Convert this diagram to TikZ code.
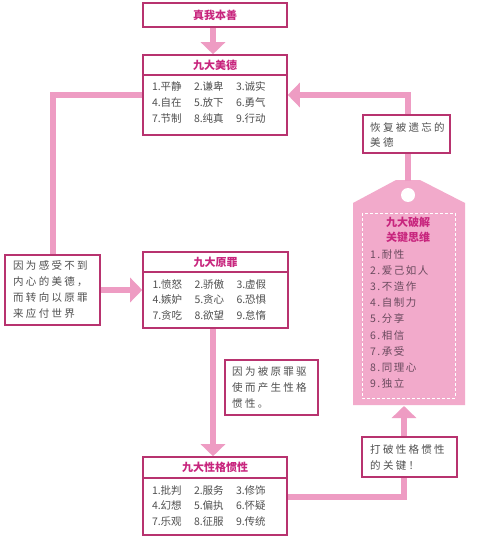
\documentclass[tikz,border=0pt]{standalone}
\usepackage{fontspec}
\setmainfont{Noto Sans CJK SC}
\newfontfamily\spaced[LetterSpace=22]{Noto Sans CJK SC}
\newfontfamily\tagspaced[LetterSpace=14]{Noto Sans CJK SC}
\usetikzlibrary{arrows.meta}
\definecolor{linepink}{HTML}{EE9CC3}
\definecolor{tagpink}{HTML}{F2AACB}
\definecolor{border}{HTML}{B8336F}
\definecolor{titlecol}{HTML}{C8267E}
\definecolor{txt}{HTML}{505050}
\definecolor{tagtxt}{HTML}{6A4A5E}
\tikzset{
  pinkline/.style={line width=6pt, draw=linepink},
  pinkarrow/.style={pinkline, -{Triangle[width=24pt,length=12pt]}},
  boxstyle/.style={draw=border, line width=1.6pt, fill=white, inner sep=0pt},
  titlebox/.style={boxstyle, text=titlecol, font=\fontsize{11}{13}\selectfont\bfseries},
  itemtext/.style={inner sep=0pt, align=left, text=txt, font=\fontsize{10.5}{15.8}\selectfont},
  labeltext/.style={inner sep=0pt, align=left, text=txt, anchor=west, font=\fontsize{10.5}{15.8}\spaced},
}
\newcommand{\itm}[1]{\makebox[42pt][l]{#1}}
\begin{document}
\begin{tikzpicture}[x=1pt,y=-1pt]
\useasboundingbox (0,0) rectangle (486,540);
\fill[white] (0,0) rectangle (486,540);

% tag shape
\fill[tagpink] (353,405) -- (353,203) -- (396,180) -- (420,180) -- (465,203) -- (465,405) -- cycle;
\fill[white] (408,195) circle (7);
\draw[white, line width=1pt, dash pattern=on 3pt off 2pt] (362,213) rectangle (455,398);
\coordinate (tagtop) at (408,181);
\coordinate (tagbot) at (404,406);

% main boxes
\node[titlebox, minimum width=144pt, minimum height=24pt] (top) at (215,15) {真我本善};
\node[titlebox, minimum width=144pt, minimum height=20pt] (virtT) at (215,65) {九大美德};
\node[boxstyle, minimum width=144pt, minimum height=60pt] (virtB) at (215,105) {};
\node[itemtext] (virtL) at (215,102.5) {\itm{1.平静}\itm{2.谦卑}\itm{3.诚实}\\\itm{4.自在}\itm{5.放下}\itm{6.勇气}\\\itm{7.节制}\itm{8.纯真}\itm{9.行动}};

\node[titlebox, minimum width=145pt, minimum height=20pt] (sinsT) at (215.5,262) {九大原罪};
\node[boxstyle, minimum width=145pt, minimum height=56pt] (sinsB) at (215.5,300) {};
\node[itemtext] (sinsL) at (215.5,300) {\itm{1.愤怒}\itm{2.骄傲}\itm{3.虚假}\\\itm{4.嫉妒}\itm{5.贪心}\itm{6.恐惧}\\\itm{7.贪吃}\itm{8.欲望}\itm{9.怠惰}};

\node[titlebox, minimum width=144pt, minimum height=21pt] (habT) at (215,467.5) {九大性格惯性};
\node[boxstyle, minimum width=144pt, minimum height=57pt] (habB) at (215,506.5) {};
\node[itemtext] (habL) at (215,506) {\itm{1.批判}\itm{2.服务}\itm{3.修饰}\\\itm{4.幻想}\itm{5.偏执}\itm{6.怀疑}\\\itm{7.乐观}\itm{8.征服}\itm{9.传统}};

\node[boxstyle, minimum width=95pt, minimum height=70pt] (left) at (52.5,290) {};

% connectors
\draw[pinkarrow] ([xshift=-2pt]top.south) -- ([xshift=-2pt]virtT.north);
\draw[pinkarrow] (tagtop) |- ([yshift=10pt]virtB.east);
\draw[pinkline] ([yshift=10pt]virtB.west) -| (left.north);
\draw[pinkarrow] (left.east) -- (left.east -| sinsB.west);
\draw[pinkarrow] ([xshift=-2.5pt]sinsB.south) -- ([xshift=-2pt]habT.north);
\draw[pinkarrow] ([yshift=9.5pt]habB.east) -| (tagbot);

% label boxes
\node[labeltext] (leftL) at (13,289.5) {因为感受不到\\内心的美德，\\而转向以原罪\\来应付世界};
\node[boxstyle, minimum width=93pt, minimum height=55pt] (mid) at (271.5,387.5) {};
\node[labeltext] (midL) at (232,387.5) {因为被原罪驱\\使而产生性格\\惯性。};
\node[boxstyle, minimum width=87pt, minimum height=38pt] (rtop) at (406.5,134) {};
\node[labeltext] (rtopL) at (370,135) {恢复被遗忘的\\美德};
\node[boxstyle, minimum width=95pt, minimum height=40pt] (rbot) at (409.5,457) {};
\node[labeltext] (rbotL) at (370,457.5) {打破性格惯性\\的关键！};

% tag text
\node[inner sep=0pt, align=center, text=titlecol, font=\fontsize{11}{15}\selectfont\bfseries] (tagT) at (408,229.5) {九大破解\\关键思维};
\node[inner sep=0pt, align=left, text=tagtxt, anchor=north west, font=\fontsize{10.5}{16.2}\tagspaced] (tagL) at (370,249) {1.耐性\\2.爱己如人\\3.不造作\\4.自制力\\5.分享\\6.相信\\7.承受\\8.同理心\\9.独立};
\end{tikzpicture}
\end{document}
